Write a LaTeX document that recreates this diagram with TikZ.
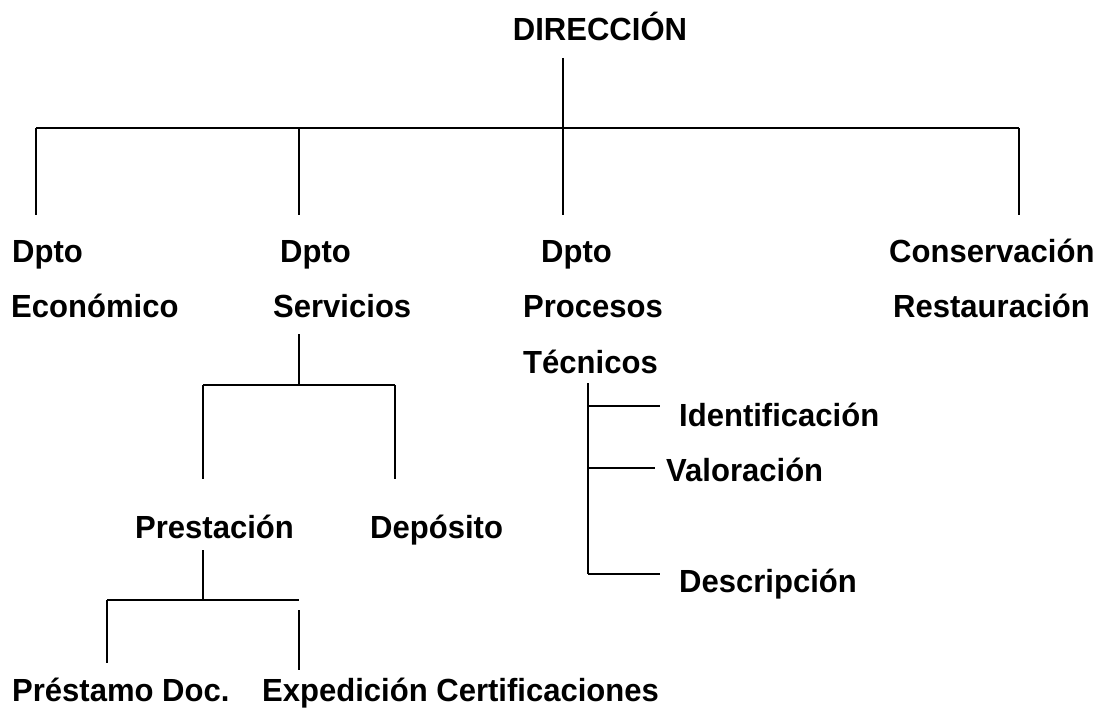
\documentclass[tikz,border=0pt]{standalone}
\usepackage{fontspec}
\setmainfont{Liberation Sans}[FakeStretch=0.97]
\begin{document}
\begin{tikzpicture}[x=1pt,y=-1pt,
  lbl/.style={font=\fontsize{32}{38}\selectfont\bfseries, inner sep=0pt, anchor=base west},
  hl/.style={line width=2pt},
  vl/.style={line width=1.3pt}]
\useasboundingbox (0,0) rectangle (1102,708);
% texts
\node[lbl, anchor=base] (dir) at (600,41) {DIRECCIÓN};
\node[lbl] (d1) at (12,263) {Dpto};
\node[lbl] (eco) at (11,318) {Económico};
\node[lbl] (d2) at (280,263) {Dpto};
\node[lbl] (ser) at (273,318) {Servicios};
\node[lbl] (d3) at (541,263) {Dpto};
\node[lbl] (pro) at (523,318) {Procesos};
\node[lbl] (tec) at (523,373) {Técnicos};
\node[lbl] (con) at (889,263) {Conservación};
\node[lbl] (res) at (893,318) {Restauración};
\node[lbl] (pre) at (135,538) {Prestación};
\node[lbl] (dep) at (370,538) {Depósito};
\node[lbl] (prs) at (12,701) {Préstamo Doc.};
\node[lbl] (exp) at (262,701) {Expedición Certificaciones};
\node[lbl] (ide) at (679,426) {Identificación};
\node[lbl] (val) at (666,481) {Valoración};
\node[lbl] (des) at (679,592) {Descripción};
% coordinates
\coordinate (top) at (563,58);
\coordinate (bus) at (563,128);
\coordinate (busL) at (36,128);
\coordinate (busR) at (1019,128);
\coordinate (b1) at (299,128);
\coordinate (e1) at (36,215);
\coordinate (e2) at (299,215);
\coordinate (e3) at (563,215);
\coordinate (e4) at (1019,215);
\coordinate (s0) at (299,334);
\coordinate (s1) at (299,385);
\coordinate (sL) at (203,385);
\coordinate (sR) at (395,385);
\coordinate (sLe) at (203,479);
\coordinate (sRe) at (395,479);
\coordinate (p0) at (203,550);
\coordinate (p1) at (203,600);
\coordinate (pL) at (107,600);
\coordinate (pR) at (299,600);
\coordinate (pLe) at (107,663);
\coordinate (pRs) at (299,610);
\coordinate (pRe) at (299,670);
\coordinate (t0) at (588,383);
\coordinate (t1) at (588,406);
\coordinate (t2) at (588,468);
\coordinate (t3) at (588,574);
\coordinate (i1) at (660,406);
\coordinate (i2) at (655,468);
\coordinate (i3) at (660,574);
% lines
\draw[vl] (top) -- (bus);
\draw[hl] (busL) -- (busR);
\draw[vl] (busL) -- (e1);
\draw[vl] (b1) -- (e2);
\draw[vl] (bus) -- (e3);
\draw[vl] (busR) -- (e4);
\draw[vl] (s0) -- (s1);
\draw[hl] (sL) -- (sR);
\draw[vl] (sL) -- (sLe);
\draw[vl] (sR) -- (sRe);
\draw[vl] (p0) -- (p1);
\draw[hl] (pL) -- (pR);
\draw[vl] (pL) -- (pLe);
\draw[vl] (pRs) -- (pRe);
\draw[vl] (t0) -- (t3);
\draw[hl] (t1) -- (i1);
\draw[hl] (t2) -- (i2);
\draw[hl] (t3) -- (i3);
\end{tikzpicture}
\end{document}
